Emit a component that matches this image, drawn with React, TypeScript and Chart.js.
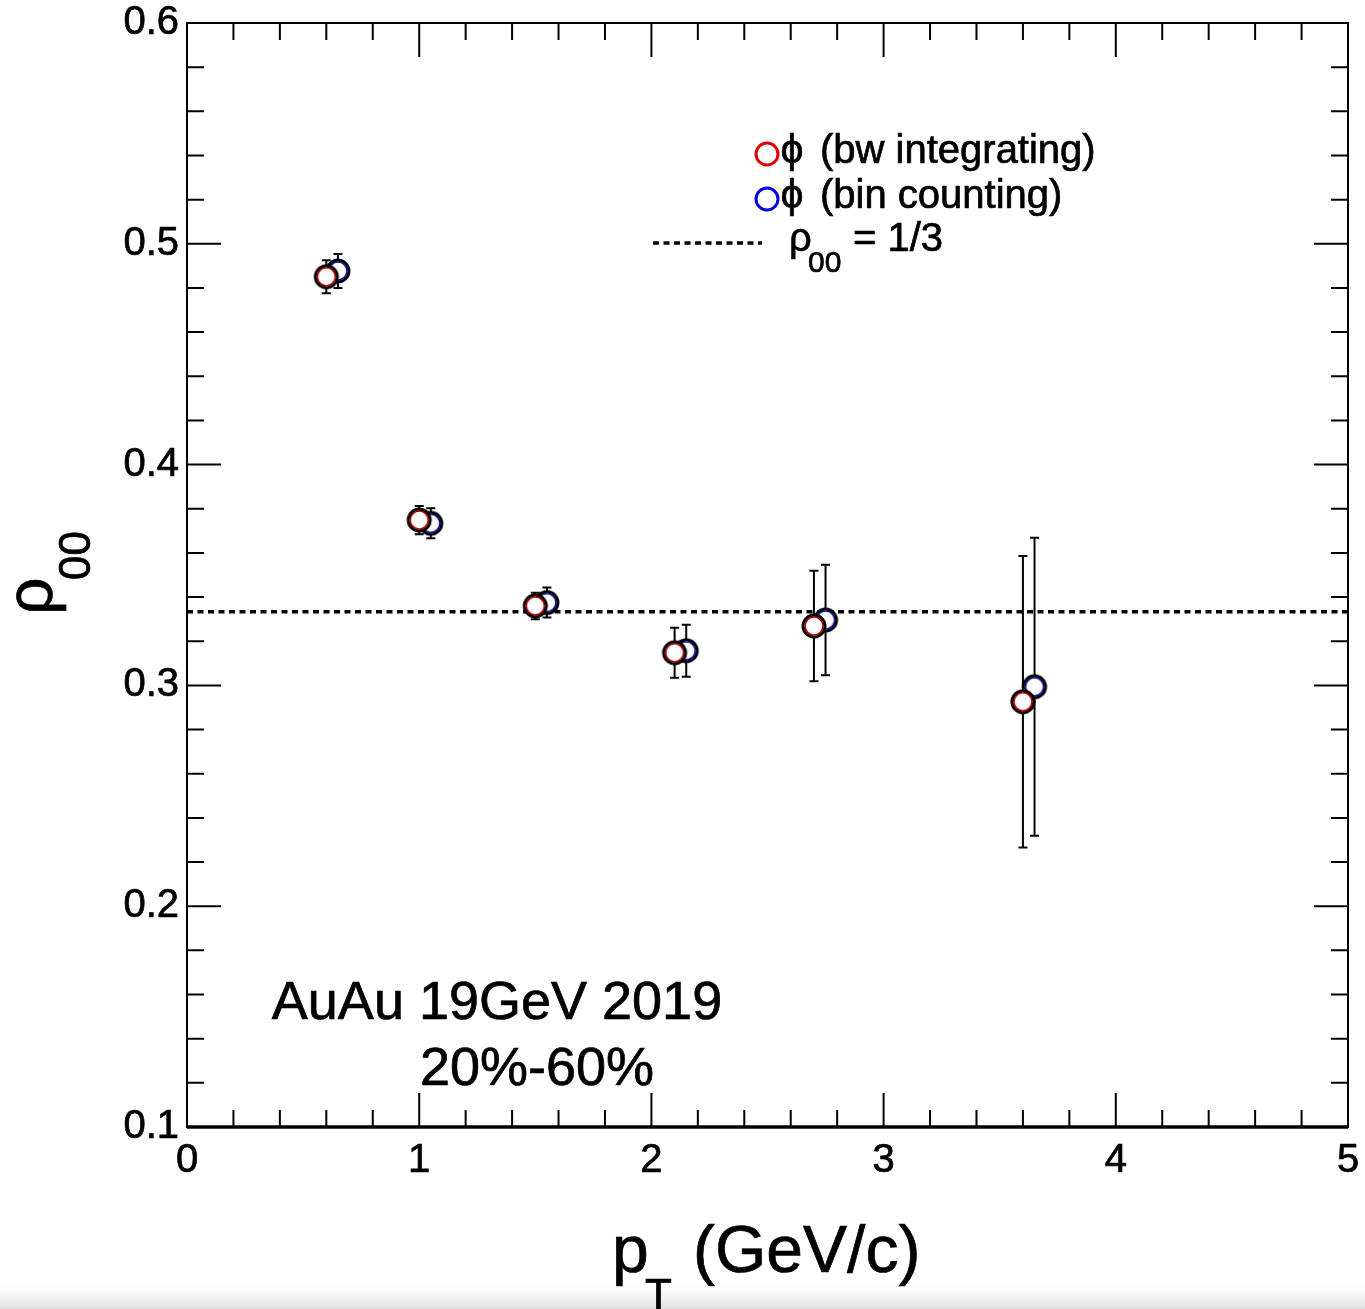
import { useEffect, useRef } from "react";
import { Chart, registerables } from "chart.js";

Chart.register(...registerables);

// rho_00 of the phi meson vs pT, two yield-extraction methods
const ptBw = [0.6, 1.0, 1.5, 2.1, 2.7, 3.6];
const rhoBw = [0.4851, 0.3749, 0.336, 0.3148, 0.3269, 0.2926];
const errBw = [0.0075, 0.0064, 0.006, 0.0113, 0.025, 0.066];

const ptBin = [0.65, 1.05, 1.55, 2.15, 2.75, 3.65];
const rhoBin = [0.4877, 0.3734, 0.3375, 0.3157, 0.3296, 0.2994];
const errBin = [0.0077, 0.0068, 0.0068, 0.0118, 0.025, 0.0675];

const rhoRef = 1 / 3;
const xRange = [0, 5];
const yRange = [0.1, 0.6];

const FONT = '"Liberation Sans", Helvetica, Arial, sans-serif';

function makeMarker(color: string): HTMLCanvasElement {
  const c = document.createElement("canvas");
  c.width = 30;
  c.height = 30;
  const g = c.getContext("2d")!;
  g.beginPath();
  g.arc(15, 15, 11, 0, Math.PI * 2);
  g.fillStyle = "#fff";
  g.fill();
  g.lineWidth = 3;
  g.strokeStyle = "#000";
  g.stroke();
  g.beginPath();
  g.arc(15, 15, 9, 0, Math.PI * 2);
  g.lineWidth = 1.6;
  g.strokeStyle = color;
  g.stroke();
  return c;
}

const noPad = (s: any) => {
  s.paddingTop = 0;
  s.paddingBottom = 0;
  s.paddingLeft = 0;
  s.paddingRight = 0;
};

// filled text with a thin outline so glyphs carry a little more weight
function text(ctx: CanvasRenderingContext2D, s: string, x: number, y: number) {
  ctx.fillText(s, x, y);
  ctx.strokeText(s, x, y);
}

const rootStyle = {
  id: "rootStyle",
  beforeDraw(chart: any) {
    const { ctx, width, height } = chart;
    ctx.save();
    ctx.fillStyle = "#fff";
    ctx.fillRect(0, 0, width, height);
    const grad = ctx.createLinearGradient(0, height - 24, 0, height);
    grad.addColorStop(0, "rgba(235,235,235,0)");
    grad.addColorStop(1, "rgba(225,225,225,1)");
    ctx.fillStyle = grad;
    ctx.fillRect(0, height - 24, width, 24);
    ctx.restore();
  },
  beforeDatasetsDraw(chart: any) {
    const { ctx } = chart;
    const xs = chart.scales.x;
    const ys = chart.scales.y;
    ctx.save();
    ctx.strokeStyle = "#000";
    ctx.lineWidth = 2;
    const series: [number[], number[], number[]][] = [
      [ptBin, rhoBin, errBin],
      [ptBw, rhoBw, errBw],
    ];
    for (const [px, py, pe] of series) {
      for (let i = 0; i < px.length; i++) {
        const x = xs.getPixelForValue(px[i]);
        const y1 = ys.getPixelForValue(py[i] + pe[i]);
        const y2 = ys.getPixelForValue(py[i] - pe[i]);
        ctx.beginPath();
        ctx.moveTo(x, y1);
        ctx.lineTo(x, y2);
        ctx.moveTo(x - 4.5, y1);
        ctx.lineTo(x + 4.5, y1);
        ctx.moveTo(x - 4.5, y2);
        ctx.lineTo(x + 4.5, y2);
        ctx.stroke();
      }
    }
    ctx.restore();
  },
  afterDatasetsDraw(chart: any) {
    const { ctx, chartArea: a } = chart;
    const xs = chart.scales.x;
    const ys = chart.scales.y;
    ctx.save();
    ctx.strokeStyle = "#000";
    ctx.lineWidth = 2;
    // inward ticks on all four sides
    ctx.beginPath();
    for (let k = 0; k <= 25; k++) {
      const v = xRange[0] + k * 0.2;
      const x = xs.getPixelForValue(v);
      const len = k % 5 === 0 ? 34 : 17;
      ctx.moveTo(x, a.bottom);
      ctx.lineTo(x, a.bottom - len);
      ctx.moveTo(x, a.top);
      ctx.lineTo(x, a.top + len);
    }
    for (let k = 0; k <= 25; k++) {
      const v = yRange[0] + k * 0.02;
      const y = ys.getPixelForValue(v);
      const len = k % 5 === 0 ? 34 : 17;
      ctx.moveTo(a.left, y);
      ctx.lineTo(a.left + len, y);
      ctx.moveTo(a.right, y);
      ctx.lineTo(a.right - len, y);
    }
    ctx.stroke();
    ctx.strokeRect(a.left, a.top, a.right - a.left, a.bottom - a.top);
    ctx.lineWidth = 3.5;
    ctx.beginPath();
    ctx.moveTo(a.left, a.bottom);
    ctx.lineTo(a.right, a.bottom);
    ctx.stroke();
    ctx.restore();
  },
  afterDraw(chart: any) {
    const { ctx } = chart;
    ctx.save();
    ctx.fillStyle = "#000";
    ctx.strokeStyle = "#000";
    ctx.lineWidth = 0.7;
    ctx.textBaseline = "alphabetic";
    ctx.textAlign = "left";

    // x-axis title
    ctx.font = `66px ${FONT}`;
    text(ctx, "p", 612, 1272);
    text(ctx, "(GeV/c)", 693, 1272);
    ctx.font = `44px ${FONT}`;
    text(ctx, "T", 645, 1310);

    // y-axis title
    ctx.save();
    ctx.translate(52, 615);
    ctx.rotate(-Math.PI / 2);
    ctx.font = `66px ${FONT}`;
    text(ctx, "ρ", 0, 0);
    ctx.font = `44px ${FONT}`;
    text(ctx, "00", 35, 38);
    ctx.restore();

    // collision system / centrality
    ctx.font = `54px ${FONT}`;
    ctx.textAlign = "center";
    text(ctx, "AuAu 19GeV 2019", 497, 1019);
    text(ctx, "20%-60%", 537, 1085);
    ctx.textAlign = "left";

    // legend text
    ctx.font = `40px ${FONT}`;
    text(ctx, "(bw integrating)", 820, 163);
    text(ctx, "(bin counting)", 820, 208);
    text(ctx, "ρ", 789, 251);
    text(ctx, "= 1/3", 853, 251);
    ctx.font = `30px ${FONT}`;
    text(ctx, "00", 808, 272);
    ctx.font = `41px ${FONT}`;
    ctx.textAlign = "center";
    text(ctx, "ϕ", 792, 163);
    text(ctx, "ϕ", 792, 208);
    ctx.textAlign = "left";

    // legend symbols
    ctx.lineWidth = 3;
    ctx.strokeStyle = "#e00000";
    ctx.beginPath();
    ctx.arc(767, 154, 11, 0, Math.PI * 2);
    ctx.stroke();
    ctx.strokeStyle = "#0000e0";
    ctx.beginPath();
    ctx.arc(767, 199, 11, 0, Math.PI * 2);
    ctx.stroke();

    ctx.strokeStyle = "#000";
    ctx.lineWidth = 3.5;
    ctx.setLineDash([6, 4.5]);
    ctx.beginPath();
    ctx.moveTo(653, 243);
    ctx.lineTo(762, 243);
    ctx.stroke();
    ctx.setLineDash([]);
    ctx.restore();
  },
};

export default function App() {
  const ref = useRef<HTMLCanvasElement | null>(null);

  useEffect(() => {
    document.body.style.margin = "0";
    document.body.style.overflow = "hidden";
    const canvas = ref.current!;
    const tickFont = { family: FONT, size: 40 };
    const chart = new Chart(canvas, {
      type: "scatter",
      data: {
        datasets: [
          {
            label: "ϕ (bw integrating)",
            data: ptBw.map((x, i) => ({ x, y: rhoBw[i] })),
            pointStyle: makeMarker("#b00000") as any,
            pointRadius: 11,
            showLine: false,
          },
          {
            label: "ϕ (bin counting)",
            data: ptBin.map((x, i) => ({ x, y: rhoBin[i] })),
            pointStyle: makeMarker("#1010a0") as any,
            pointRadius: 11,
            showLine: false,
          },
          {
            label: "ρ00 = 1/3",
            data: [
              { x: xRange[0], y: rhoRef },
              { x: xRange[1], y: rhoRef },
            ],
            showLine: true,
            borderColor: "#000",
            borderWidth: 3.5,
            borderDash: [6, 4.5],
            pointRadius: 0,
          },
        ],
      },
      options: {
        animation: false,
        responsive: false,
        devicePixelRatio: 1,
        layout: { padding: { top: 23, right: 17, left: 0, bottom: 0 } },
        plugins: {
          legend: { display: false },
          tooltip: { enabled: false },
        },
        scales: {
          x: {
            type: "linear",
            min: xRange[0],
            max: xRange[1],
            afterFit: (s: any) => {
              s.height = 182;
              noPad(s);
            },
            grid: { display: false, drawTicks: false },
            border: { display: false },
            ticks: {
              stepSize: 1,
              padding: 10,
              color: "#000",
              font: tickFont,
              textStrokeColor: "#000",
              textStrokeWidth: 0.7,
              maxRotation: 0,
              autoSkip: false,
            },
          },
          y: {
            type: "linear",
            min: yRange[0],
            max: yRange[1],
            afterFit: (s: any) => {
              s.width = 187;
              noPad(s);
            },
            grid: { display: false, drawTicks: false },
            border: { display: false },
            ticks: {
              stepSize: 0.1,
              padding: 8,
              color: "#000",
              font: tickFont,
              textStrokeColor: "#000",
              textStrokeWidth: 0.7,
              autoSkip: false,
              callback: (v: any) => Number(v).toFixed(1),
            },
          },
        },
      },
      plugins: [rootStyle],
    });
    return () => chart.destroy();
  }, []);

  return <canvas ref={ref} width={1365} height={1309} style={{ display: "block" }} />;
}
